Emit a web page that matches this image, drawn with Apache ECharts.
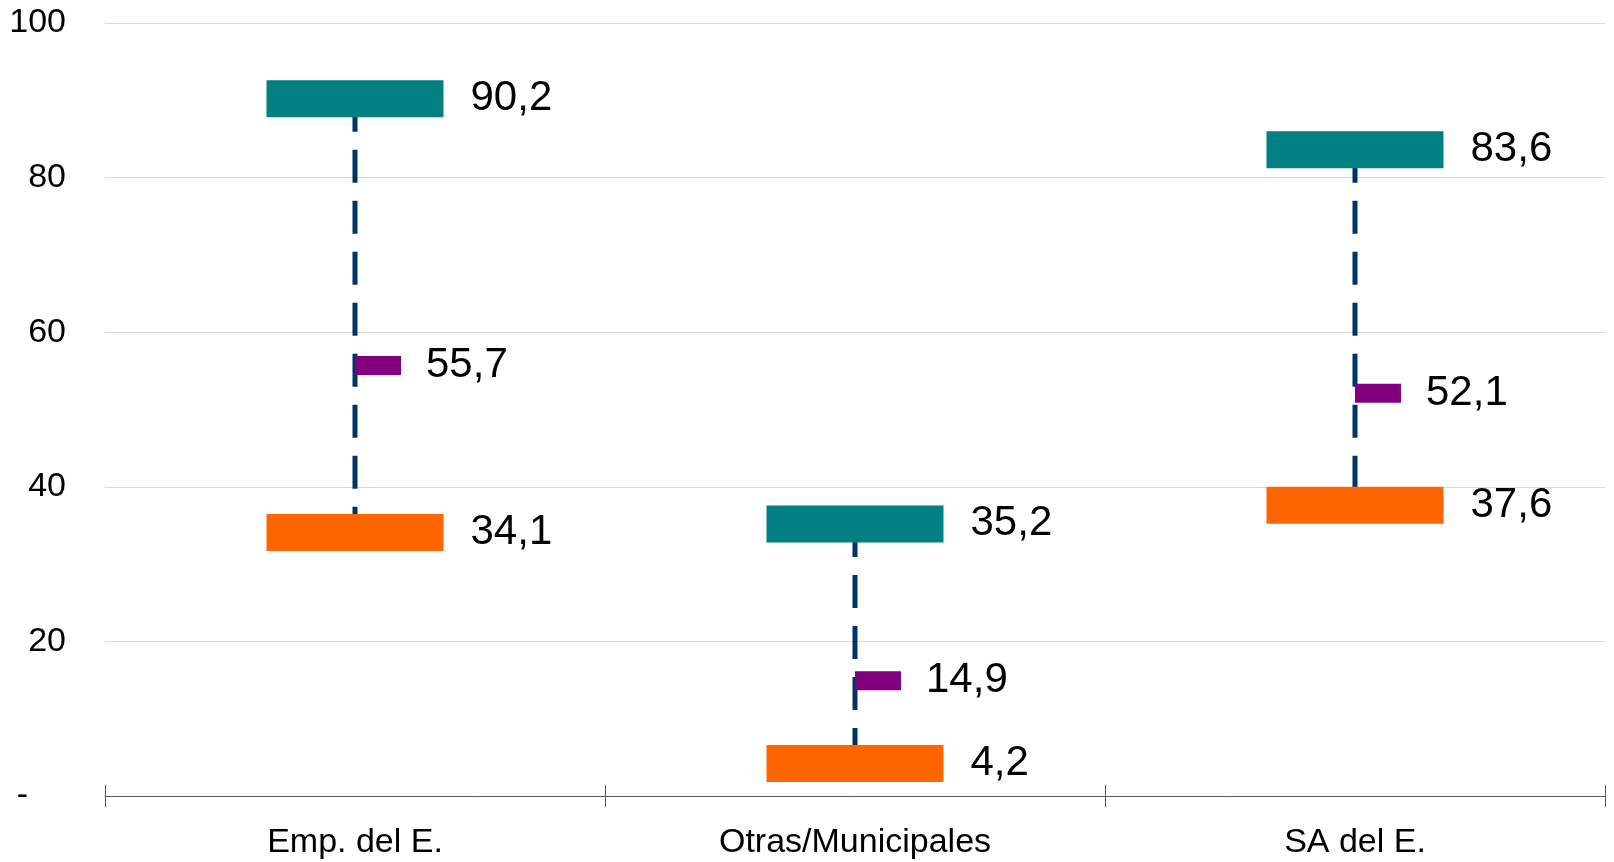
<!DOCTYPE html>
<html>
<head>
<meta charset="utf-8">
<script src="https://cdn.jsdelivr.net/npm/echarts@6/dist/echarts.min.js"></script>
<style>
html,body{margin:0;padding:0;background:#fff;}
#chart{width:1614px;height:862px;}
</style>
</head>
<body>
<div id="chart"></div>
<script>
const categories = ['Emp. del E.', 'Otras/Municipales', 'SA del E.'];
const maxValues = [90.2, 35.2, 83.6];
const avgValues = [55.7, 14.9, 52.1];
const minValues = [34.1, 4.2, 37.6];
const yTicks = [0, 20, 40, 60, 80, 100];

const fmt = v => String(v).replace('.', ',');
const FONT = '"Liberation Sans", Arial, sans-serif';

const chart = echarts.init(document.getElementById('chart'));
const labelStyle = {
  show: true,
  position: 'right',
  distance: 27,
  fontSize: 42,
  fontFamily: FONT,
  color: '#000',
  formatter: p => fmt(p.value[1])
};

chart.setOption({
  animation: false,
  grid: { left: 105, right: 9, top: 23, bottom: 66 },
  xAxis: [{
    type: 'category',
    data: categories,
    boundaryGap: true,
    axisLine: { lineStyle: { color: '#595959', width: 1 } },
    axisTick: { show: true, length: 11, lineStyle: { color: '#595959' } },
    axisLabel: { fontSize: 34, fontFamily: FONT, color: '#000', margin: 30 },
    splitLine: { show: false }
  }, {
    type: 'category',
    data: categories,
    position: 'bottom',
    boundaryGap: true,
    axisLine: { show: false },
    axisTick: { show: true, inside: true, length: 11, lineStyle: { color: '#595959' } },
    axisLabel: { show: false },
    splitLine: { show: false }
  }],
  yAxis: {
    type: 'value',
    min: yTicks[0],
    max: yTicks[yTicks.length - 1],
    interval: 20,
    axisLine: { show: false },
    axisTick: { show: false },
    splitLine: { lineStyle: { color: '#d9d9d9', width: 1 } },
    axisLabel: {
      fontSize: 34, fontFamily: FONT, color: '#000', margin: 39,
      formatter: v => v === 0 ? '{d|-}' : String(v),
      rich: { d: { fontSize: 34, fontFamily: FONT, color: '#000', padding: [0, 38, 0, 0] } }
    }
  },
  series: [{
    type: 'custom',
    z: 1,
    data: categories.map((c, i) => [i, maxValues[i], minValues[i]]),
    encode: { x: 0, y: [1, 2] },
    renderItem: (params, api) => {
      const p1 = api.coord([api.value(0), api.value(1)]);
      const p2 = api.coord([api.value(0), api.value(2)]);
      return {
        type: 'line',
        shape: { x1: p1[0], y1: p1[1], x2: p2[0], y2: p2[1] },
        style: { stroke: '#003366', lineWidth: 5, lineDash: [33, 18] }
      };
    }
  }, {
    type: 'scatter',
    z: 3,
    symbol: 'rect',
    symbolSize: [177, 37],
    itemStyle: { color: '#008080', opacity: 1 },
    data: categories.map((c, i) => [i, maxValues[i]]),
    label: labelStyle
  }, {
    type: 'scatter',
    z: 3,
    symbol: 'rect',
    symbolSize: [177, 37],
    itemStyle: { color: '#FF6600', opacity: 1 },
    data: categories.map((c, i) => [i, minValues[i]]),
    label: labelStyle
  }, {
    type: 'scatter',
    z: 4,
    symbol: 'rect',
    symbolSize: [46, 19],
    symbolOffset: [23, 0],
    itemStyle: { color: '#800080', opacity: 1 },
    data: categories.map((c, i) => [i, avgValues[i]]),
    label: Object.assign({}, labelStyle, { distance: 25 })
  }]
});
</script>
</body>
</html>
